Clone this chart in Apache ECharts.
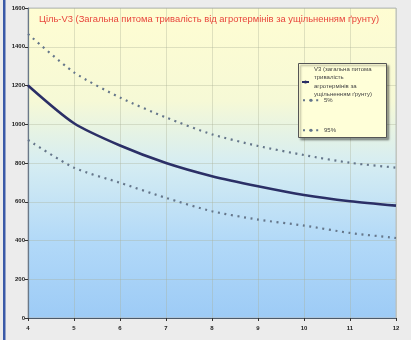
<!DOCTYPE html>
<html><head><meta charset="utf-8">
<script src="https://cdn.jsdelivr.net/npm/echarts@6/dist/echarts.min.js"></script>
<style>html,body{margin:0;padding:0;background:#ececec}#c{width:411px;height:340px}</style>
</head><body><div id="c"></div>
<script>
const titleText = 'Ціль-V3 (Загальна питома тривалість від агротермінів за ущільненням ґрунту)';
const xValues = [4, 5, 6, 7, 8, 9, 10, 11, 12];
const v3Values = [1200, 1005, 890, 800, 732, 680, 635, 603, 580];
const p5Values = [919, 776, 698, 620, 551, 508, 477, 439, 413];
const p95Values = [1466, 1268, 1138, 1035, 948, 888, 841, 801, 776];
const seriesNames = ['V3 (загальна питома\nтривалість\nагротермінів за\nущільненням ґрунту)', '5%', '95%'];

const pair = (xs, ys) => xs.map((x, i) => [x, ys[i]]);
const chart = echarts.init(document.getElementById('c'), null, {renderer: 'canvas'});
const font = 'Liberation Sans, Arial, sans-serif';
const dotStyle = {color: '#65768a', width: 2.2, type: [2, 4.6], cap: 'butt'};
const legendBase = {orient: 'vertical', itemWidth: 16, itemHeight: 4, padding: 0,
  textStyle: {fontSize: 6, color: '#444', fontFamily: font, lineHeight: 8.5}, selectedMode: false};

chart.setOption({
  backgroundColor: '#ececec',
  animation: false,
  title: {text: titleText, left: 34, top: 10, textStyle: {fontSize: 9.4, color: '#e8453c', fontWeight: 'normal', fontFamily: font}},
  graphic: [
    {type: 'rect', left: 3, top: 0, shape: {width: 2.5, height: 340}, style: {fill: '#3a5aa8'}},
    {type: 'rect', left: 298, top: 63, z: 5, shape: {width: 88, height: 74},
     style: {fill: '#ffffd8', stroke: '#555', lineWidth: 1, shadowBlur: 2, shadowOffsetX: 2, shadowOffsetY: 2, shadowColor: 'rgba(0,0,0,0.35)'}}
  ],
  legend: [
    Object.assign({}, legendBase, {data: [seriesNames[0]], left: 301, top: 65, itemWidth: 7, z: 10}),
    Object.assign({}, legendBase, {data: [seriesNames[1]], left: 302, top: 96, z: 10}),
    Object.assign({}, legendBase, {data: [seriesNames[2]], left: 302, top: 126, z: 10})
  ],
  grid: {left: 28, right: 15, top: 8, bottom: 22, show: true, borderColor: '#b8bcc0', borderWidth: 1,
    backgroundColor: {type: 'linear', x: 0, y: 0, x2: 0, y2: 1, colorStops: [
      {offset: 0, color: '#fffdd2'}, {offset: 0.3, color: '#f6f9d6'}, {offset: 0.5, color: '#d6edf2'},
      {offset: 0.75, color: '#b2d9f8'}, {offset: 1, color: '#9dcbf6'}]}},
  xAxis: {type: 'value', min: 4, max: 12, interval: 1,
    axisLine: {lineStyle: {color: '#4c5a6a', width: 1.2}},
    axisTick: {show: true, length: 3, lineStyle: {color: '#333'}},
    axisLabel: {fontSize: 6, fontWeight: 'bold', color: '#222', margin: 7, fontFamily: font},
    splitLine: {show: true, lineStyle: {color: 'rgba(170,175,150,0.35)', width: 1}}},
  yAxis: {type: 'value', min: 0, max: 1600, interval: 200,
    axisLine: {show: true, lineStyle: {color: '#6a7888', width: 1.2}},
    axisTick: {show: true, length: 3, lineStyle: {color: '#333'}},
    axisLabel: {fontSize: 6, fontWeight: 'bold', color: '#222', margin: 3, fontFamily: font, formatter: v => String(v)},
    splitLine: {show: true, lineStyle: {color: 'rgba(170,175,150,0.35)', width: 1}}},
  series: [
    {name: seriesNames[0], type: 'line', data: pair(xValues, v3Values), symbol: 'none', smooth: 0.25,
     lineStyle: {color: '#2b2f66', width: 2.6}, itemStyle: {color: '#2b2f66'}},
    {name: seriesNames[1], type: 'line', data: pair(xValues, p5Values), symbol: 'none', smooth: 0.25,
     lineStyle: dotStyle, itemStyle: {color: '#65768a'}},
    {name: seriesNames[2], type: 'line', data: pair(xValues, p95Values), symbol: 'none', smooth: 0.25,
     lineStyle: dotStyle, itemStyle: {color: '#65768a'}}
  ]
});
</script></body></html>
